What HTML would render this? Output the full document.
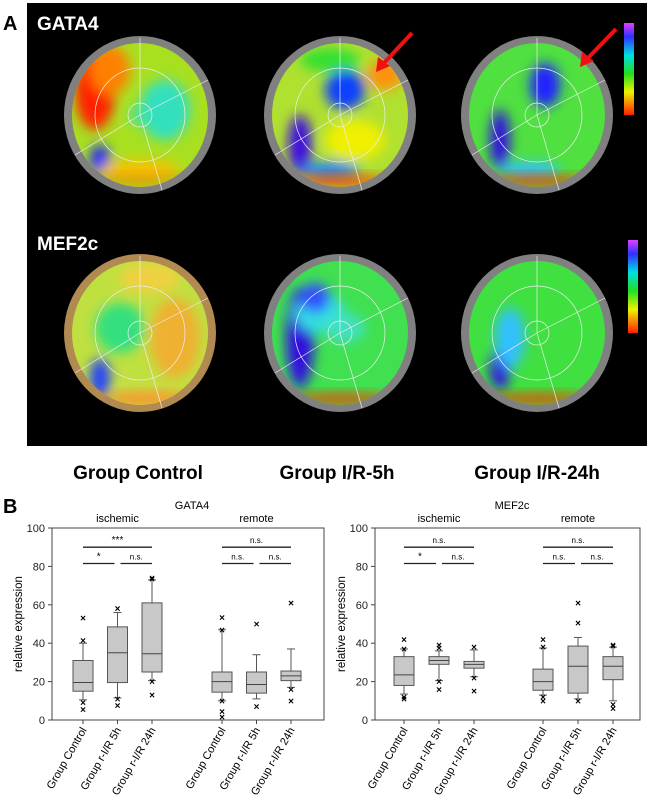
<!DOCTYPE html>
<html><head><meta charset="utf-8">
<style>
body{margin:0;background:#fff;width:650px;height:800px;overflow:hidden;font-family:"Liberation Sans",Arial,sans-serif}
svg{position:absolute;left:0;top:0}
</style></head>
<body>
<svg id="fig" width="650" height="800" viewBox="0 0 650 800">
<defs>
<filter id="bl" x="-50%" y="-50%" width="200%" height="200%"><feGaussianBlur stdDeviation="6"/></filter>
<linearGradient id="cbar" x1="0" y1="0" x2="0" y2="1">
<stop offset="0" stop-color="#e040ff"/><stop offset="0.15" stop-color="#3030ff"/><stop offset="0.35" stop-color="#00e0e0"/><stop offset="0.55" stop-color="#20e020"/><stop offset="0.75" stop-color="#f0f000"/><stop offset="1" stop-color="#ff2000"/></linearGradient>
<clipPath id="c1"><ellipse cx="140" cy="115" rx="68" ry="72"/></clipPath>
<clipPath id="c2"><ellipse cx="340" cy="115" rx="68" ry="72"/></clipPath>
<clipPath id="c3"><ellipse cx="537" cy="115" rx="68" ry="72"/></clipPath>
<clipPath id="c4"><ellipse cx="140" cy="333" rx="68" ry="72"/></clipPath>
<clipPath id="c5"><ellipse cx="340" cy="333" rx="68" ry="72"/></clipPath>
<clipPath id="c6"><ellipse cx="537" cy="333" rx="68" ry="72"/></clipPath>
</defs>
<rect x="27" y="3" width="620" height="443" fill="#000"/>
<text x="3" y="30" font-size="20" font-weight="bold" fill="#000">A</text>
<text x="37" y="30" font-size="19" font-weight="bold" fill="#fff">GATA4</text>
<text x="37" y="250" font-size="19" font-weight="bold" fill="#fff">MEF2c</text>
<g id="maps"></g>
<rect x="624" y="23" width="10" height="92" fill="url(#cbar)"/>
<rect x="628" y="240" width="10" height="93" fill="url(#cbar)"/>
<g><line x1="412" y1="33" x2="384" y2="63" stroke="#f01010" stroke-width="4"/><polygon points="376,72 378,57 390,66" fill="#f01010"/></g>
<g><line x1="616" y1="29" x2="588" y2="58" stroke="#f01010" stroke-width="4"/><polygon points="580,67 582,52 594,61" fill="#f01010"/></g>
<text x="138" y="479" font-size="19" font-weight="bold" text-anchor="middle">Group Control</text>
<text x="337" y="479" font-size="19" font-weight="bold" text-anchor="middle">Group I/R-5h</text>
<text x="537" y="479" font-size="19" font-weight="bold" text-anchor="middle">Group I/R-24h</text>
<text x="3" y="513" font-size="20" font-weight="bold">B</text>
<g id="charts"></g>
</svg>
<script>
const NS="http://www.w3.org/2000/svg";
function mk(tag,attrs,parent){const e=document.createElementNS(NS,tag);for(const k in attrs)e.setAttribute(k,attrs[k]);parent.appendChild(e);return e;}
const mapCenters=[[140,115],[340,115],[537,115],[140,333],[340,333],[537,333]];
const mapBase=["#a8e020","#b0e030","#50e040","#c0e040","#40e050","#40e040"];
const blobs=[
 [[95,90,20,40,"#ff2000"],[110,70,20,25,"#ff8000"],[165,110,25,30,"#30e0c0"],[100,160,10,15,"#2020ff"],[140,170,40,10,"#f8c000"],[140,115,10,10,"#40e0a0"]],
 [[345,90,20,20,"#1040ff"],[385,75,18,15,"#ff9010"],[300,145,12,30,"#4010e0"],[330,170,30,8,"#2080ff"],[355,140,30,20,"#f0f000"],[330,60,30,12,"#30e030"]],
 [[545,85,15,22,"#2020ff"],[500,140,10,30,"#3010e0"],[530,170,30,8,"#30c0ff"]],
 [[120,110,25,25,"#30e080"],[175,120,25,40,"#f0b030"],[100,160,10,20,"#2040ff"],[150,180,40,8,"#f0c040"],[150,60,30,15,"#f0d040"]],
 [[300,120,14,50,"#3010e0"],[320,95,25,20,"#30e0e0"],[345,110,20,15,"#40e0c0"],[315,80,15,15,"#3050ff"]],
 [[500,150,10,22,"#3010e0"],[510,120,15,30,"#30c0ff"]]
];
const gm=document.getElementById('maps');
mapCenters.forEach((c,i)=>{
 const g=mk('g',{},gm);
 
 
 mk('ellipse',{cx:c[0],cy:c[1],rx:76,ry:79,fill:i==3?'#b08a50':'#808080'},g);
 const cg=mk('g',{'clip-path':'url(#c'+(i+1)+')'},g);
 mk('ellipse',{cx:c[0],cy:c[1],rx:70,ry:74,fill:mapBase[i]},cg);
 const bg=mk('g',{filter:'url(#bl)'},cg);
 const dy=i>=3?218:0;
 blobs[i].forEach(b=>mk('ellipse',{cx:b[0],cy:b[1]+dy,rx:b[2],ry:b[3],fill:b[4]},bg));
 mk('ellipse',{cx:c[0],cy:c[1]+66,rx:55,ry:6,fill:'#ff3000',filter:'url(#bl)',opacity:i==0||i==3?0.3:0.8},cg);
 mk('ellipse',{cx:c[0],cy:c[1],rx:12,ry:12,fill:'none',stroke:'#eee','stroke-width':0.7},g);
 mk('ellipse',{cx:c[0],cy:c[1],rx:45,ry:47,fill:'none',stroke:'#eee','stroke-width':0.7},g);
 mk('line',{x1:c[0],y1:c[1]-77,x2:c[0],y2:c[1],stroke:'#eee','stroke-width':0.7},g);
 mk('line',{x1:c[0],y1:c[1],x2:c[0]+68,y2:c[1]-35,stroke:'#eee','stroke-width':0.7},g);
 mk('line',{x1:c[0],y1:c[1],x2:c[0]+22,y2:c[1]+75,stroke:'#eee','stroke-width':0.7},g);
 mk('line',{x1:c[0],y1:c[1],x2:c[0]-65,y2:c[1]+40,stroke:'#eee','stroke-width':0.7},g);
});
const groups=["Group Control","Group r-I/R 5h","Group r-I/R 24h"];
const yTicks=[0,20,40,60,80,100];
const gataIsch=[[10.5,15,19.5,31,40],[11.5,19.5,35,48.5,56],[20.5,25,34.5,61,73]];
const gataRem=[[10,14.5,20,25,47],[11,14,18.5,25,34],[17,20.5,23,25.5,37]];
const gataIschOut=[[53,41.5,9,5.5],[58,11,7.5],[74,73.5,20,13]];
const gataRemOut=[[53.5,47,10,4.5,1.5],[50,7],[61,16,10]];
const mefIsch=[[13.5,18,23.5,33,37],[20.5,29,31,33,36],[22.5,27,29,30.5,36.5]];
const mefRem=[[13,15.5,20,26.5,37.5],[11,14,28,38.5,43],[10,21,28,33,38]];
const mefIschOut=[[42,37,12,11],[39,37.5,20,16],[38,22,15]];
const mefRemOut=[[42,38,12,10],[61,50.5,10],[39,38.5,8,6]];
const gataSig=[["***","*","n.s."],["n.s.","n.s.","n.s."]];
const mefSig=[["n.s.","*","n.s."],["n.s.","n.s.","n.s."]];
const sigLong=90, sigShort=81.5;
const ch=document.getElementById('charts');
function drawChart(opt){
 const g=mk('g',{},ch);
 
 
 const x0=opt.x0,x1=opt.x1,yTop=528,yBot=720;
 const Y=v=>yBot-(v/100)*(yBot-yTop);
 const X=(blk,i)=>opt.cx[blk]+i*opt.step;
 const fr=mk('rect',{x:x0,y:yTop,width:x1-x0,height:yBot-yTop,fill:'none',stroke:'#444','stroke-width':1},g);
 
 
 yTicks.forEach(t=>{
  mk('line',{x1:x0-4,x2:x0,y1:Y(t),y2:Y(t),stroke:'#444'},g);
  const tx=mk('text',{x:x0-7,y:Y(t)+4,'font-size':11,'text-anchor':'end',fill:'#222'},g);
  tx.textContent=t;
  
  
 });
 const yl=mk('text',{x:0,y:0,'font-size':11.5,'text-anchor':'middle',transform:`translate(${x0-30},${(yTop+yBot)/2}) rotate(-90)`},g);
 yl.textContent='relative expression';
 
 
 const tt=mk('text',{x:opt.titleX,y:509,'font-size':11,'text-anchor':'middle'},g);
 tt.textContent=opt.title;
 
 
 ["ischemic","remote"].forEach((s,b)=>{
  const st=mk('text',{x:X(b,1),y:522,'font-size':11,'text-anchor':'middle'},g);
  st.textContent=s;
  
  
 });
 [opt.isch,opt.rem].forEach((data,b)=>{
  const outs=b==0?opt.ischOut:opt.remOut;
  data.forEach((d,i)=>{
   const cx=X(b,i),w=10;
   const bx=mk('g',{},g);
   
   
   mk('line',{x1:cx,x2:cx,y1:Y(d[0]),y2:Y(d[1]),stroke:'#555'},bx);
   mk('line',{x1:cx,x2:cx,y1:Y(d[3]),y2:Y(d[4]),stroke:'#555'},bx);
   mk('line',{x1:cx-4,x2:cx+4,y1:Y(d[0]),y2:Y(d[0]),stroke:'#555'},bx);
   mk('line',{x1:cx-4,x2:cx+4,y1:Y(d[4]),y2:Y(d[4]),stroke:'#555'},bx);
   mk('rect',{x:cx-w,y:Y(d[3]),width:2*w,height:Y(d[1])-Y(d[3]),fill:'#c8c8c8',stroke:'#555'},bx);
   mk('line',{x1:cx-w,x2:cx+w,y1:Y(d[2]),y2:Y(d[2]),stroke:'#444'},bx);
   outs[i].forEach(v=>{
    const o=mk('text',{x:cx,y:Y(v)+3.5,'font-size':10,'font-weight':'bold','text-anchor':'middle'},bx);
    o.textContent='×';
    
    
   });
   const lb=mk('text',{x:0,y:0,'font-size':11,'text-anchor':'end',transform:`translate(${cx+4},${yBot+10}) rotate(-60)`},g);
   lb.textContent=groups[i];
   
   
   mk('line',{x1:cx,x2:cx,y1:yBot,y2:yBot+4,stroke:'#444'},g);
  });
  const sig=opt.sig[b];
  const sg=mk('g',{},g);
  
  
  const brackets=[[X(b,0),X(b,2),sigLong,sig[0]],[X(b,0),X(b,1)-3,sigShort,sig[1]],[X(b,1)+3,X(b,2),sigShort,sig[2]]];
  brackets.forEach(br=>{
   mk('line',{x1:br[0],x2:br[1],y1:Y(br[2]),y2:Y(br[2]),stroke:'#222','stroke-width':1.3},sg);
   const t=mk('text',{x:(br[0]+br[1])/2,y:Y(br[2])-4,'font-size':br[3]=='n.s.'?8:10,'text-anchor':'middle'},sg);
   t.textContent=br[3];
  });
 });
}
drawChart({name:'gata4-boxplot',x0:52,x1:324,cx:[83,222],step:34.5,title:'GATA4',titleX:192,isch:gataIsch,rem:gataRem,ischOut:gataIschOut,remOut:gataRemOut,sig:gataSig});
drawChart({name:'mef2c-boxplot',x0:375,x1:640,cx:[404,543],step:35,title:'MEF2c',titleX:512,isch:mefIsch,rem:mefRem,ischOut:mefIschOut,remOut:mefRemOut,sig:mefSig});
</script>
</body></html>
